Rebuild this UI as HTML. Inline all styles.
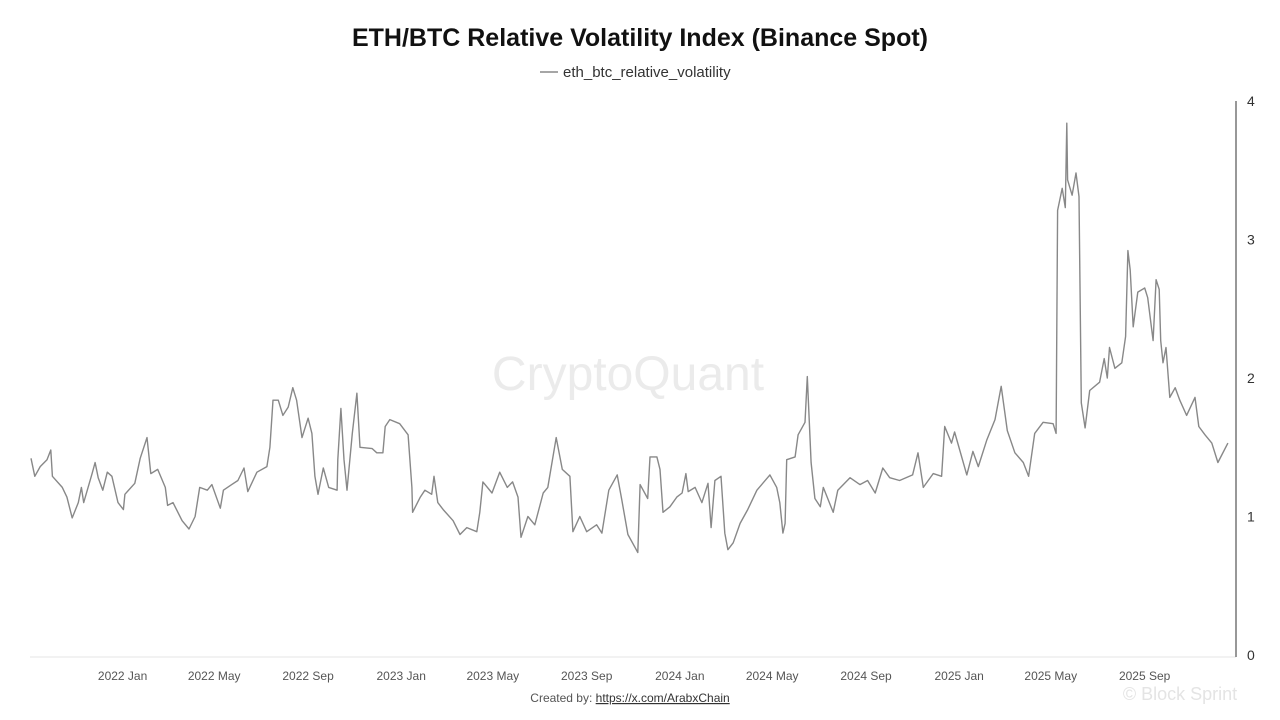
<!DOCTYPE html>
<html><head><meta charset="utf-8">
<style>
html,body{margin:0;padding:0;background:#fff;width:1280px;height:720px;overflow:hidden;font-family:"Liberation Sans",sans-serif;}
</style></head>
<body>
<svg id="chart" width="1280" height="720" viewBox="0 0 1280 720" xmlns="http://www.w3.org/2000/svg">
  <text x="640" y="46" text-anchor="middle" font-size="25" font-weight="bold" fill="#111">ETH/BTC Relative Volatility Index (Binance Spot)</text>
  <g>
    <line x1="540" y1="72" x2="558" y2="72" stroke="#888" stroke-width="1.5"/>
    <text x="563" y="77" font-size="15" fill="#333">eth_btc_relative_volatility</text>
  </g>
  <text x="628" y="390" text-anchor="middle" font-size="48" fill="#ebebeb">CryptoQuant</text>
  <line x1="30" y1="657" x2="1236" y2="657" stroke="#e6e6e6" stroke-width="1"/>
  <line x1="1236" y1="101" x2="1236" y2="657" stroke="#777" stroke-width="1.5"/>
  <g id="yticks"></g>
  <g id="xticks"></g>
  <path id="series" fill="none" stroke="#888" stroke-width="1.4" stroke-linejoin="round"/>
  <text x="630" y="702" text-anchor="middle" font-size="12" fill="#555">Created by: <tspan text-decoration="underline" fill="#333">https://x.com/ArabxChain</tspan></text>
  <text x="1180" y="700" text-anchor="middle" font-size="18" fill="#e4e4e4">© Block Sprint</text>
</svg>
<script>
const yTicks = [0, 1, 2, 3, 4];
const xTickLabels = ["2022 Jan","2022 May","2022 Sep","2023 Jan","2023 May","2023 Sep","2024 Jan","2024 May","2024 Sep","2025 Jan","2025 May","2025 Sep"];
const xTickDates = ["2022-01-01","2022-05-01","2022-09-01","2023-01-01","2023-05-01","2023-09-01","2024-01-01","2024-05-01","2024-09-01","2025-01-01","2025-05-01","2025-09-01"];
// days since 2021-09-03
const dayOffsets = [0,5,12,21,26,28,41,47,54,62,66,69,80,84,88,94,100,106,114,121,123,136,143,152,157,166,176,179,186,198,207,215,221,231,237,248,252,263,271,279,284,296,309,313,317,324,330,337,343,348,355,363,368,372,376,383,390,401,402,406,410,414,421,427,431,447,453,461,464,470,
483,494,499,500,510,516,525,528,533,540,553,562,571,584,588,592,604,614,624,631,638,642,651,660,671,677,688,696,706,710,719,728,741,748,757,768,774,782,795,798,808,811,820,824,828,837,846,853,858,861,870,879,887,891,896,904,909,913,920,929,939,951,968,977,981,985,988,990,1001,1005,
1014,1017,1022,1027,1034,1038,1051,1057,1073,1086,1096,1106,1116,1125,1138,1155,1162,1169,1182,1193,1197,1206,1210,1226,1234,1241,1252,1263,1271,1279,1289,1300,1307,1315,1326,1339,1343,1345,1351,1355,1357,1358,1364,1369,1373,1376,1381,1387,1400,1406,1410,1413,1420,1429,1434,1437,1440,1444,1450,1459,1463,1470,1474,1478,1480,1483,1487,1492,1499,1505,1514,1525,1530,1538,1547,1555,1568];
const volatility = [1.42,1.29,1.36,1.41,1.48,1.29,1.21,1.14,0.99,1.10,1.21,1.10,1.31,1.39,1.28,1.19,1.32,1.29,1.10,1.05,1.16,1.24,1.42,1.57,1.31,1.34,1.21,1.08,1.10,0.97,0.91,1.00,1.21,1.19,1.23,1.06,1.19,1.23,1.26,1.35,1.18,1.32,1.36,1.50,1.84,1.84,1.73,1.79,1.93,1.84,1.57,1.71,1.60,1.29,1.16,1.35,1.21,1.19,1.41,1.78,1.41,1.19,1.60,1.89,1.50,1.49,1.46,1.46,1.65,1.70,
1.67,1.59,1.21,1.03,1.14,1.19,1.16,1.29,1.10,1.05,0.97,0.87,0.92,0.89,1.03,1.25,1.17,1.32,1.21,1.25,1.14,0.85,1.00,0.94,1.17,1.21,1.57,1.34,1.29,0.89,1.00,0.89,0.94,0.88,1.19,1.30,1.12,0.87,0.74,1.23,1.13,1.43,1.43,1.34,1.03,1.07,1.14,1.17,1.31,1.18,1.21,1.10,1.24,0.92,1.26,1.29,0.88,0.76,0.81,0.95,1.05,1.19,1.30,1.21,1.10,0.88,0.95,1.41,1.43,1.59,
1.68,2.01,1.39,1.13,1.07,1.21,1.03,1.19,1.28,1.23,1.26,1.17,1.35,1.28,1.26,1.30,1.46,1.21,1.31,1.29,1.65,1.53,1.61,1.30,1.47,1.36,1.55,1.70,1.94,1.62,1.46,1.39,1.29,1.60,1.68,1.67,1.60,3.21,3.37,3.23,3.84,3.43,3.32,3.48,3.31,1.82,1.64,1.91,1.97,2.14,2.00,2.22,2.07,2.11,2.30,2.92,2.78,2.37,2.62,2.65,2.58,2.27,2.71,2.64,2.27,2.11,2.22,1.86,1.93,1.84,1.73,1.86,1.65,1.59,1.53,1.39,1.53];

const NS = "http://www.w3.org/2000/svg";
const origin = Date.UTC(2021, 8, 3);
const xScale = d => 31 + d * 0.7633;
const yScale = v => 655 - v * 138.5;

const yg = document.getElementById('yticks');
yTicks.forEach(t => {
  const tx = document.createElementNS(NS, 'text');
  tx.setAttribute('x', 1247); tx.setAttribute('y', yScale(t) + 5);
  tx.setAttribute('font-size', '14'); tx.setAttribute('fill', '#333');
  tx.textContent = t;
  
  
  yg.appendChild(tx);
});

const xg = document.getElementById('xticks');
xTickLabels.forEach((lab, i) => {
  const p = xTickDates[i].split('-').map(Number);
  const d = (Date.UTC(p[0], p[1] - 1, p[2]) - origin) / 86400000;
  const tx = document.createElementNS(NS, 'text');
  tx.setAttribute('x', xScale(d)); tx.setAttribute('y', 680);
  tx.setAttribute('text-anchor', 'middle');
  tx.setAttribute('font-size', '12'); tx.setAttribute('fill', '#555');
  tx.textContent = lab;
  
  
  xg.appendChild(tx);
});

let dstr = '';
dayOffsets.forEach((d, i) => {
  dstr += (i ? 'L' : 'M') + xScale(d).toFixed(1) + ',' + yScale(volatility[i]).toFixed(1);
});
document.getElementById('series').setAttribute('d', dstr);
</script>
</body></html>
